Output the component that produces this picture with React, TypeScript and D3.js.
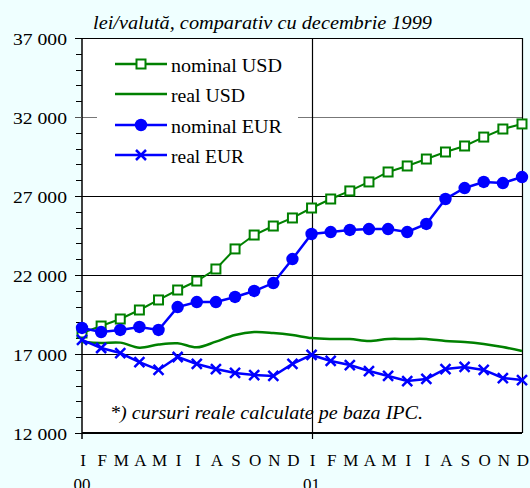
import React from "react";
import * as d3 from "d3";

const monthLabels = ["I","F","M","A","M","I","I","A","S","O","N","D","I","F","M","A","M","I","I","A","S","O","N","D"];
const yearLabels = [{ idx: 0, text: "00" }, { idx: 12, text: "01" }];
const yTicks = [12000, 17000, 22000, 27000, 32000, 37000];
const yMinorTicks = d3.range(12000, 37001, 1000);

const nominalUSD = [18330, 18770, 19215, 19785, 20420, 21050, 21620, 22380, 23650, 24530, 25100, 25610, 26240, 26810, 27320, 27890, 28520, 28900, 29340, 29785, 30165, 30730, 31240, 31560];
const realUSD = [17760, 17700, 17720, 17400, 17600, 17680, 17420, 17780, 18200, 18390, 18330, 18200, 18010, 17950, 17950, 17820, 17950, 17950, 17950, 17820, 17760, 17630, 17440, 17190];
const nominalEUR = [18650, 18390, 18520, 18710, 18520, 19970, 20290, 20290, 20610, 20990, 21490, 23010, 24595, 24720, 24850, 24910, 24910, 24720, 25230, 26810, 27505, 27890, 27820, 28200];
const realEUR = [17890, 17380, 17060, 16490, 15990, 16810, 16370, 16050, 15800, 15670, 15610, 16370, 16940, 16560, 16300, 15920, 15610, 15290, 15420, 16050, 16180, 15990, 15480, 15350];

const title = "lei/valută, comparativ cu decembrie 1999";
const footnote = "*) cursuri reale calculate pe baza IPC.";
const legendItems = [
  { label: "nominal USD", color: "#008000", marker: "square", w: 111 },
  { label: "real USD", color: "#008000", marker: "none", w: 74 },
  { label: "nominal EUR", color: "#0000FF", marker: "circle", w: 111 },
  { label: "real EUR", color: "#0000FF", marker: "cross", w: 73 },
];

const W = 530, H = 488;
const L = 82, R = 522, T = 38, B = 433;
const FONT = '"Liberation Serif", "Times New Roman", Times, "DejaVu Serif", serif';

function fmt(v: number) {
  const s = String(v);
  return s.slice(0, s.length - 3) + " " + s.slice(-3);
}

function Marker({ type, x, y, color }: { type: string; x: number; y: number; color: string }) {
  if (type === "square") return <rect x={x - 4.5} y={y - 4.5} width={9} height={9} fill="#fff" stroke={color} strokeWidth={2} />;
  if (type === "circle") return <circle cx={x} cy={y} r={6.2} fill={color} />;
  if (type === "cross")
    return (
      <path d={`M${x - 5},${y - 5}L${x + 5},${y + 5}M${x - 5},${y + 5}L${x + 5},${y - 5}`} stroke={color} strokeWidth={2.5} />
    );
  return null;
}

export default function App() {
  const x = d3.scaleLinear().domain([0, 23]).range([L, R]);
  const y = d3.scaleLinear().domain([12000, 37000]).range([B, T]);
  const idx = d3.range(24);
  const straight = d3.line<number>().x((_, i) => x(i)).y((d) => y(d));
  const smooth = d3.line<number>().x((_, i) => x(i)).y((d) => y(d)).curve(d3.curveCatmullRom.alpha(0.5));

  const legendY = [64, 94, 125, 155];
  const txt = { fontFamily: FONT, fill: "#000" };

  return (
    <svg width={W} height={H} style={{ position: "absolute", left: 0, top: 0, fontFamily: FONT }}>
      <rect x={0} y={0} width={W} height={H} fill="#EFFFFF" />
      <rect x={L} y={T} width={R - L} height={B - T} fill="#fff" />
      {/* gridlines */}
      {yTicks.filter((t) => t !== 12000 && t !== 37000).map((t) => (
        <line key={t} x1={L} x2={R} y1={Math.round(y(t)) + 0.5} y2={Math.round(y(t)) + 0.5} stroke={t === 32000 ? "#777" : "#000"} strokeWidth={1} />
      ))}
      <line x1={Math.round(x(12)) + 0.5} x2={Math.round(x(12)) + 0.5} y1={T} y2={B + 6} stroke="#000" strokeWidth={1.2} />
      {/* legend box */}
      <rect x={97} y={41} width={201} height={133} fill="#fff" />
      {/* borders */}
      <line x1={L} x2={R} y1={T + 0.5} y2={T + 0.5} stroke="#000" strokeWidth={1} />
      <line x1={R + 0.5} x2={R + 0.5} y1={T} y2={B} stroke="#000" strokeWidth={1.2} />
      <line x1={L} x2={L} y1={T} y2={B + 6} stroke="#000" strokeWidth={1.5} />
      <line x1={L} x2={R} y1={B} y2={B} stroke="#000" strokeWidth={2.2} />
      {/* y ticks */}
      {yMinorTicks.map((t) => (
        <line key={t} x1={yTicks.includes(t) ? 75 : 76} x2={L} y1={Math.round(y(t)) + 0.5} y2={Math.round(y(t)) + 0.5} stroke={t === 32000 ? "#555" : "#000"} strokeWidth={1} />
      ))}
      {yTicks.map((t) => (
        <text key={t} style={txt} x={67} y={y(t) + 6.5} textAnchor="end" fontSize={17} textLength={54} lengthAdjust="spacingAndGlyphs">
          {fmt(t)}
        </text>
      ))}
      {/* x labels */}
      {monthLabels.map((m, i) => (
        <text key={i} style={txt} x={x(i) + 1} y={466} textAnchor="middle" fontSize={17}>
          {m}
        </text>
      ))}
      {yearLabels.map((yl) => (
        <text key={yl.text} style={txt} x={x(yl.idx)} y={490} textAnchor="middle" fontSize={17}>
          {yl.text}
        </text>
      ))}
      {/* series */}
      <path d={straight(nominalUSD) || ""} fill="none" stroke="#008000" strokeWidth={2} />
      {idx.map((i) => <Marker key={"s" + i} type="square" x={x(i)} y={y(nominalUSD[i])} color="#008000" />)}
      <path d={smooth(realUSD) || ""} fill="none" stroke="#008000" strokeWidth={2.5} />
      <path d={straight(nominalEUR) || ""} fill="none" stroke="#0000FF" strokeWidth={2.5} />
      {idx.map((i) => <Marker key={"c" + i} type="circle" x={x(i)} y={y(nominalEUR[i])} color="#0000FF" />)}
      <path d={straight(realEUR) || ""} fill="none" stroke="#0000FF" strokeWidth={2.5} />
      {idx.map((i) => <Marker key={"x" + i} type="cross" x={x(i)} y={y(realEUR[i])} color="#0000FF" />)}
      {/* legend */}
      {legendItems.map((it, k) => (
        <g key={it.label}>
          <line x1={115} x2={167} y1={legendY[k]} y2={legendY[k]} stroke={it.color} strokeWidth={2.5} />
          <Marker type={it.marker} x={141} y={legendY[k]} color={it.color} />
          <text style={txt} x={171} y={legendY[k] + 7.5} fontSize={18} textLength={it.w} lengthAdjust="spacingAndGlyphs">
            {it.label}
          </text>
        </g>
      ))}
      <text style={txt} x={93} y={29} fontSize={19} fontStyle="italic" textLength={339} lengthAdjust="spacingAndGlyphs">
        {title}
      </text>
      <text style={txt} x={110} y={419} fontSize={18} fontStyle="italic" textLength={313} lengthAdjust="spacingAndGlyphs">
        {footnote}
      </text>
    </svg>
  );
}
